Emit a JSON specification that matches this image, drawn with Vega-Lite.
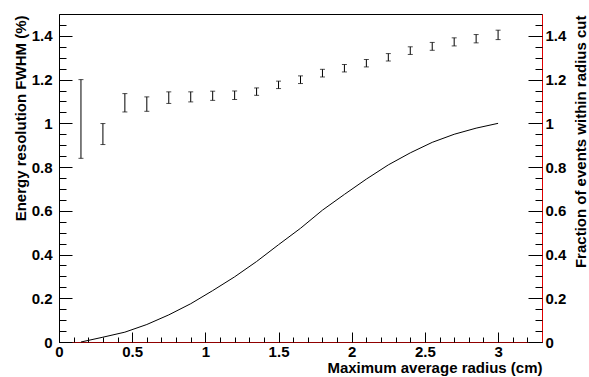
{
  "$schema": "https://vega.github.io/schema/vega-lite/v6.json",
  "width": 483,
  "height": 328,
  "autosize": {"type": "none"},
  "padding": {"left": 59, "top": 14, "right": 47, "bottom": 35},
  "background": "white",
  "config": {
    "view": {"stroke": "#000", "strokeWidth": 1},
    "axis": {
      "grid": false,
      "labelFont": "Liberation Sans",
      "labelFontWeight": "bold",
      "labelFontSize": 15,
      "labelColor": "#000",
      "titleFont": "Liberation Sans",
      "titleFontWeight": "bold",
      "titleFontSize": 15,
      "titleColor": "#000",
      "tickColor": "#000",
      "domainColor": "#000",
      "labelOverlap": false,
      "labelFlush": false
    }
  },
  "data": {
    "values": [
      {"r": 0.15, "lo": 0.84, "hi": 1.2, "f": 0.0},
      {"r": 0.3, "lo": 0.903, "hi": 0.999, "f": 0.022},
      {"r": 0.45, "lo": 1.052, "hi": 1.136, "f": 0.045},
      {"r": 0.6, "lo": 1.055, "hi": 1.121, "f": 0.08},
      {"r": 0.75, "lo": 1.091, "hi": 1.144, "f": 0.124},
      {"r": 0.9, "lo": 1.098, "hi": 1.144, "f": 0.175},
      {"r": 1.05, "lo": 1.105, "hi": 1.147, "f": 0.235},
      {"r": 1.2, "lo": 1.109, "hi": 1.148, "f": 0.298},
      {"r": 1.35, "lo": 1.128, "hi": 1.162, "f": 0.368},
      {"r": 1.5, "lo": 1.159, "hi": 1.193, "f": 0.445},
      {"r": 1.65, "lo": 1.182, "hi": 1.217, "f": 0.52},
      {"r": 1.8, "lo": 1.212, "hi": 1.247, "f": 0.603},
      {"r": 1.95, "lo": 1.235, "hi": 1.269, "f": 0.675},
      {"r": 2.1, "lo": 1.258, "hi": 1.292, "f": 0.745},
      {"r": 2.25, "lo": 1.285, "hi": 1.319, "f": 0.81},
      {"r": 2.4, "lo": 1.315, "hi": 1.35, "f": 0.865},
      {"r": 2.55, "lo": 1.334, "hi": 1.37, "f": 0.913},
      {"r": 2.7, "lo": 1.354, "hi": 1.391, "f": 0.95},
      {"r": 2.85, "lo": 1.368, "hi": 1.406, "f": 0.978},
      {"r": 3.0, "lo": 1.383, "hi": 1.426, "f": 1.0}
    ]
  },
  "resolve": {
    "scale": {"y": "independent"},
    "axis": {"x": "independent", "y": "independent"}
  },
  "layer": [
    {
      "mark": {"type": "rule", "color": "#000", "strokeWidth": 1},
      "encoding": {
        "x": {
          "field": "r", "type": "quantitative",
          "scale": {"domain": [0, 3.3], "nice": false, "zero": false},
          "axis": {
            "orient": "bottom",
            "values": [0, 0.5, 1, 1.5, 2, 2.5, 3],
            "format": "~g",
            "tickSize": -10,
            "labelPadding": 12,
            "domainColor": "#900000",
            "title": "Maximum average radius (cm)",
            "titleX": 483,
            "titleY": 25.5,
            "titleAlign": "right",
            "titleBaseline": "middle"
          }
        },
        "y": {
          "field": "lo", "type": "quantitative",
          "scale": {"domain": [0, 1.5], "nice": false, "zero": false},
          "axis": {
            "orient": "left",
            "values": [0, 0.2, 0.4, 0.6, 0.8, 1, 1.2, 1.4],
            "format": "~g",
            "tickSize": -13,
            "labelPadding": 20,
            "title": "Energy resolution FWHM (%)",
            "titleX": -39,
            "titleY": 1,
            "titleAngle": 270,
            "titleAlign": "right",
            "titleBaseline": "middle"
          }
        },
        "y2": {"field": "hi"}
      }
    },
    {
      "mark": {"type": "tick", "orient": "horizontal", "size": 5, "thickness": 1, "color": "#000"},
      "encoding": {
        "x": {
          "field": "r", "type": "quantitative",
          "axis": {
            "orient": "bottom",
            "values": [0, 0.1, 0.2, 0.3, 0.4, 0.5, 0.6, 0.7, 0.8, 0.9, 1, 1.1, 1.2, 1.3, 1.4, 1.5, 1.6, 1.7, 1.8, 1.9, 2, 2.1, 2.2, 2.3, 2.4, 2.5, 2.6, 2.7, 2.8, 2.9, 3, 3.1, 3.2],
            "labels": false,
            "domain": false,
            "tickSize": -5,
            "title": null
          }
        },
        "y": {
          "field": "hi", "type": "quantitative",
          "scale": {"domain": [0, 1.5], "nice": false, "zero": false},
          "axis": {
            "orient": "left",
            "values": [0, 0.05, 0.1, 0.15, 0.2, 0.25, 0.3, 0.35, 0.4, 0.45, 0.5, 0.55, 0.6, 0.65, 0.7, 0.75, 0.8, 0.85, 0.9, 0.95, 1, 1.05, 1.1, 1.15, 1.2, 1.25, 1.3, 1.35, 1.4, 1.45],
            "labels": false,
            "domain": false,
            "tickSize": -7,
            "title": null
          }
        }
      }
    },
    {
      "mark": {"type": "tick", "orient": "horizontal", "size": 5, "thickness": 1, "color": "#000"},
      "encoding": {
        "x": {"field": "r", "type": "quantitative", "axis": null},
        "y": {
          "field": "lo", "type": "quantitative",
          "scale": {"domain": [0, 1.5], "nice": false, "zero": false},
          "axis": {
            "orient": "right",
            "values": [0, 0.2, 0.4, 0.6, 0.8, 1, 1.2, 1.4],
            "format": "~g",
            "tickSize": -14,
            "labelPadding": 17,
            "domainColor": "#e00000",
            "title": "Fraction of events within radius cut",
            "titleX": 38,
            "titleY": 1,
            "titleAngle": 270,
            "titleAlign": "right",
            "titleBaseline": "middle"
          }
        }
      }
    },
    {
      "mark": {"type": "line", "color": "#000", "strokeWidth": 1},
      "encoding": {
        "x": {"field": "r", "type": "quantitative", "axis": null},
        "y": {
          "field": "f", "type": "quantitative",
          "scale": {"domain": [0, 1.5], "nice": false, "zero": false},
          "axis": {
            "orient": "right",
            "values": [0, 0.05, 0.1, 0.15, 0.2, 0.25, 0.3, 0.35, 0.4, 0.45, 0.5, 0.55, 0.6, 0.65, 0.7, 0.75, 0.8, 0.85, 0.9, 0.95, 1, 1.05, 1.1, 1.15, 1.2, 1.25, 1.3, 1.35, 1.4, 1.45],
            "labels": false,
            "domain": false,
            "tickSize": -7,
            "title": null
          }
        }
      }
    }
  ]
}
